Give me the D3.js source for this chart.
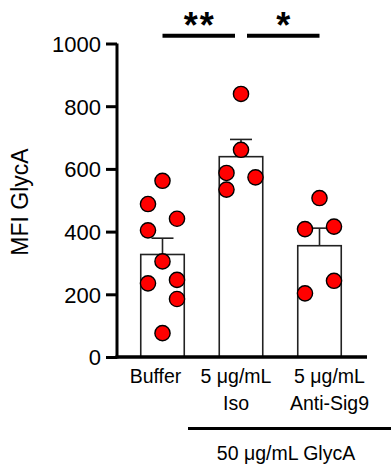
<!DOCTYPE html>
<html><head><meta charset="utf-8">
<script src="https://cdn.jsdelivr.net/npm/d3@7/dist/d3.min.js"></script>
<style>body{margin:0;background:#fff}svg{display:block}text{font-family:"Liberation Sans",Arial,sans-serif;fill:#000}</style>
</head><body><div id="c"></div>
<script>
const categories = ["Buffer", "5 μg/mL\nIso", "5 μg/mL\nAnti-Sig9"];
const means = [327, 639, 355];
const sems = [52, 55, 56];
const points = [
  [562, 488, 441, 404, 305, 235, 246, 185, 76],
  [839, 661, 587, 534, 573],
  [507, 408, 416, 203, 243]
];
const jitter = [
  [0, -1, 1, -1, 0, -1, 1, 1, 0],
  [0, 0, -1, -1, 1],
  [0, -1, 1, -1, 1]
];
const yTicks = [0, 200, 400, 600, 800, 1000];
const yLabel = "MFI GlycA";
const groupLabel = "50 μg/mL GlycA";
const sig = [{from: 0, to: 1, label: "**"}, {from: 1, to: 2, label: "*"}];

const W = 391, H = 469;
const svg = d3.select("#c").append("svg").attr("width", W).attr("height", H);
const y = d3.scaleLinear().domain([0, 1000]).range([357, 43.5]);
const x = d3.scalePoint().domain(categories).range([162.5, 319.5]);
const barW = 43.5, jStep = 14.5, capW = 22;

// bars
svg.selectAll("rect.bar").data(categories).join("rect")
  .attr("x", d => x(d) - barW / 2).attr("width", barW)
  .attr("y", (d, i) => y(means[i])).attr("height", (d, i) => y(0) - y(means[i]))
  .attr("fill", "#fff").attr("stroke", "#222").attr("stroke-width", 1.6);

// error bars
categories.forEach((c, i) => {
  const g = svg.append("g").attr("stroke", "#222").attr("stroke-width", 1.6);
  g.append("line").attr("x1", x(c)).attr("x2", x(c)).attr("y1", y(means[i])).attr("y2", y(means[i] + sems[i]));
  g.append("line").attr("x1", x(c) - capW / 2).attr("x2", x(c) + capW / 2).attr("y1", y(means[i] + sems[i])).attr("y2", y(means[i] + sems[i]));
});

// points
categories.forEach((c, i) => {
  svg.selectAll(null).data(points[i]).join("circle")
    .attr("cx", (d, k) => x(c) + jitter[i][k] * jStep)
    .attr("cy", d => y(d)).attr("r", 7.6)
    .attr("fill", "#ff0000").attr("stroke", "#000").attr("stroke-width", 1.4);
});

// y axis
const ya = svg.append("g").attr("transform", "translate(117,0)")
  .call(d3.axisLeft(y).tickValues(yTicks).tickSize(11).tickPadding(5).tickFormat(d3.format("d")));
ya.select(".domain").attr("stroke-width", 3).attr("d", `M0,${y(1000)}V${y(0) + 1.5}`);
ya.selectAll(".tick line").attr("stroke-width", 3);
ya.selectAll(".tick text").style("font-size", "22px").attr("dy", "0.36em");

// x axis baseline
svg.append("line").attr("x1", 115.5).attr("x2", 367).attr("y1", y(0)).attr("y2", y(0))
  .attr("stroke", "#000").attr("stroke-width", 3.5);

// y label
svg.append("text").attr("transform", "translate(28,202) rotate(-90)")
  .attr("text-anchor", "middle").style("font-size", "23px").text(yLabel);

// x labels
const labelDx = [-7, -5, 10];
categories.forEach((c, i) => {
  const t = svg.append("text").attr("text-anchor", "middle").style("font-size", "19.5px");
  c.split("\n").forEach((line, j) => {
    t.append("tspan").attr("x", x(c) + labelDx[i]).attr("y", 383 + j * 27).text(line);
  });
});

// group line & label
svg.append("line").attr("x1", 188).attr("x2", 391).attr("y1", 428.5).attr("y2", 428.5)
  .attr("stroke", "#000").attr("stroke-width", 3);
svg.append("text").attr("x", 286).attr("y", 460).attr("text-anchor", "middle")
  .style("font-size", "19.5px").text(groupLabel);

// significance
sig.forEach(s => {
  const x1 = x(categories[s.from]) + (s.from === 1 ? 6 : 0);
  const x2 = x(categories[s.to]) - (s.to === 1 ? 6 : 0);
  svg.append("line").attr("x1", x1).attr("x2", x2).attr("y1", 35.7).attr("y2", 35.7)
    .attr("stroke", "#000").attr("stroke-width", 4);
  svg.append("text").attr("x", (x1 + x2) / 2 + 1).attr("y", 38).attr("text-anchor", "middle")
    .style("font-size", "36px").style("font-weight", "bold").style("letter-spacing", "2px").text(s.label);
});
</script></body></html>
